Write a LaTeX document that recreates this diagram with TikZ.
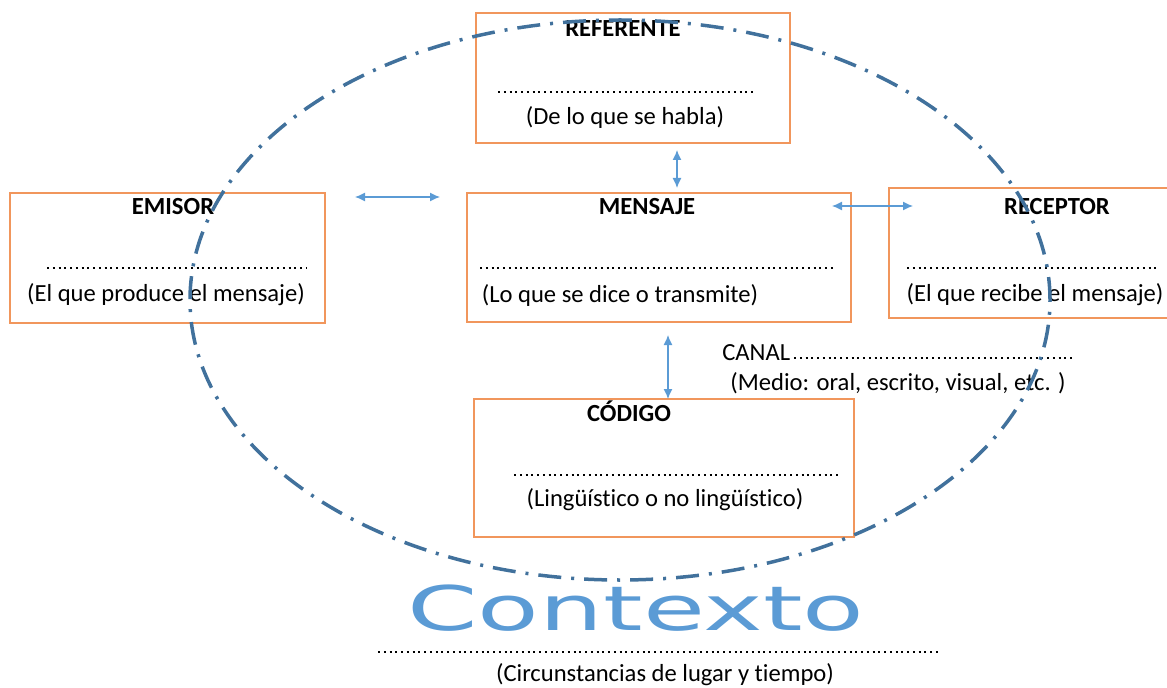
\documentclass[tikz,border=0pt]{standalone}
\usepackage{fontspec}
\setmainfont{Carlito}[Ligatures=NoCommon]
\newfontfamily\ctxfont{DejaVu Sans}
\usetikzlibrary{arrows.meta}
\definecolor{boxorange}{RGB}{241,150,92}
\definecolor{ringblue}{RGB}{65,113,156}
\definecolor{arrowblue}{RGB}{91,155,213}

\begin{document}
\begin{tikzpicture}[x=0.2mm,y=-0.2mm,
  box/.style={draw=boxorange, line width=0.3mm, inner sep=0pt},
  title/.style={font=\fontsize{14}{16}\selectfont\bfseries},
  note/.style={font=\fontsize{14}{16}\selectfont},
  dotline/.style={line width=0.45mm, dash pattern=on 0.4mm off 0.75mm},
  ring/.style={draw=ringblue, line width=0.7mm, dash pattern=on 4.6mm off 2mm on 0.6mm off 2mm},
  link/.style={arrowblue, line width=0.25mm, {Latex[length=2mm,width=1.8mm]}-{Latex[length=2mm,width=1.8mm]}}]

\useasboundingbox (0,0) rectangle (1167,688);

\node[box, minimum width=62.8mm, minimum height=26mm] (ref) at (633,78) {};
\node[box, minimum width=63mm, minimum height=26mm] (emi) at (167.5,258) {};
\node[box, minimum width=76.8mm, minimum height=25.8mm] (men) at (659,257.5) {};
\node[box, minimum width=57.2mm, minimum height=26mm] (rec) at (1032,253) {};
\node[box, minimum width=76mm, minimum height=27.6mm] (cod) at (664,468) {};

\node[title] (reft) at (623,29) {REFERENTE};
\draw[dotline] (498,92) -- (756,92);
\node[note] (refn) at (625,117) {(De lo que se habla)};

\node[title] (emit) at (173,207) {EMISOR};
\draw[dotline] (47,268) -- (307,268);
\node[note] (emin) at (166,295) {(El que produce el mensaje)};

\node[title] (ment) at (647,207) {MENSAJE};
\draw[dotline] (480,268) -- (836,268);
\node[note] (menn) at (620,295) {(Lo que se dice o transmite)};

\node[title] (rect) at (1057,207) {RECEPTOR};
\draw[dotline] (907,268) -- (1160,268);
\node[note] (recn) at (1035,295) {(El que recibe el mensaje)};

\node[note, anchor=west, inner sep=0pt] (can) at (722,353) {CANAL};
\draw[dotline] (794,358) -- (1075,358);
\node[note] (cann) at (898,383) {(Medio: oral, escrito, visual, etc. )};

\node[title] (codt) at (629,411) {CÓDIGO};
\draw[dotline] (514,475) -- (838,475);
\node[note] (codn) at (665,500) {(Lingüístico o no lingüístico)};

\draw[ring] (620,300) ellipse [x radius=86mm, y radius=56mm];

\coordinate (l1) at (355,197);
\coordinate (l2) at (440,197);
\coordinate (u1) at (677,150);
\coordinate (u2) at (677,188);
\coordinate (r1) at (832,206);
\coordinate (r2) at (913,206);
\coordinate (d1) at (668,335);
\coordinate (d2) at (668,399);
\draw[link] (l1) -- (l2);
\draw[link] (u1) -- (u2);
\draw[link] (r1) -- (r2);
\draw[link] (d1) -- (d2);

\node[font=\ctxfont\fontsize{35}{40}\selectfont, xscale=1.64, text=arrowblue] (ctx) at (636,608) {Contexto};
\draw[dotline] (378,652) -- (938,652);
\node[note] (ctxn) at (665,675) {(Circunstancias de lugar y tiempo)};

\end{tikzpicture}
\end{document}
